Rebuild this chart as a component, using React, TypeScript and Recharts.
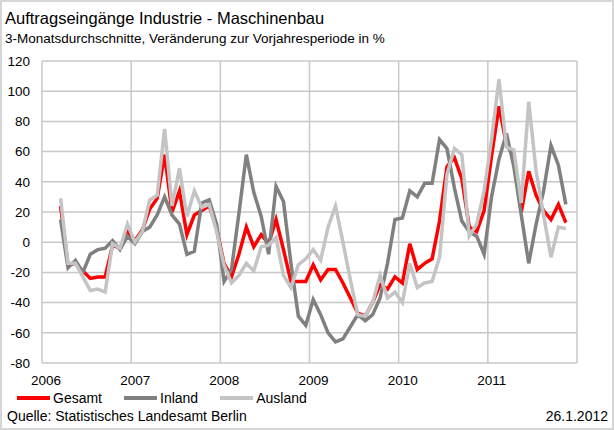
import React from 'react'
import { LineChart, Line, XAxis, YAxis, CartesianGrid } from 'recharts'

// Monate ab Januar 2006; erster Wert = März 2006, letzter = November 2011
const firstMonth = 2

const gesamt = [
  24, -15, -14, -19, -24, -23, -23, -2, -4, 7,
  1, 8, 22, 29, 58, 20, 34, 5, 18, 21,
  24, 9, -14, -23, -8, 10, -3, 5, -1, 15,
  -5, -26, -26, -26, -15, -25, -18, -18, -27, -37,
  -47, -49, -40, -28, -31, -23, -27, -1, -18, -14,
  -11, 14, 50, 56, 42, 10, 7, 21, 57, 90,
  65, 57, 20, 47, 31, 21, 15, 25, 13,
]

const inland = [
  15, -17, -12, -20, -8, -5, -4, 1, -5, 4,
  -1, 7, 10, 18, 30, 18, 12, -8, -6, 26,
  28, 12, -26, -18, 19, 58, 33, 17, -8, 37,
  27, -14, -49, -55, -38, -48, -60, -66, -64, -56,
  -48, -52, -48, -37, -14, 15, 16, 34, 30, 39,
  39, 68, 62, 36, 14, 7, 4, -8, 30, 55,
  72, 50, 18, -14, 12, 34, 64, 51, 25,
]

const ausland = [
  29, -14, -14, -23, -32, -31, -33, -1, -4, 12,
  0, 7, 28, 31, 75, 24, 49, 17, 34, 23,
  25, 7, -15, -27, -22, -14, -19, -3, -2, 3,
  -22, -30, -15, -11, -5, -12, 10, 24, 0, -25,
  -48, -49, -40, -22, -37, -33, -40, -14, -30, -27,
  -26, -10, 45, 62, 58, 4, 12, 34, 68, 108,
  63, 61, 26, 93, 47, 18, -10, 10, 9,
]

const yearLabels = ['2006', '2007', '2008', '2009', '2010', '2011']
const yearTicks = [0, 12, 24, 36, 48, 60, 72]
const valueTicks = [-80, -60, -40, -20, 0, 20, 40, 60, 80, 100, 120]

const series = [
  { key: 'gesamt', name: 'Gesamt', color: '#ff0000' },
  { key: 'inland', name: 'Inland', color: '#808080' },
  { key: 'ausland', name: 'Ausland', color: '#c4c4c4' },
]

const data = gesamt.map((g, i) => ({
  t: firstMonth + i + 0.5,
  gesamt: g,
  inland: inland[i],
  ausland: ausland[i],
}))

const font = '"Liberation Sans", Arial, sans-serif'
const tick = { fontSize: 13.5, fill: '#000', fontFamily: font }

export default function App() {
  return (
    <div
      style={{
        position: 'absolute',
        left: 0,
        top: 0,
        width: 614,
        height: 430,
        boxSizing: 'border-box',
        border: '2px solid #d6d6d6',
        background: '#fff',
        fontFamily: font,
        color: '#000',
      }}
    >
      <div style={{ position: 'absolute', left: 3, top: 7, fontSize: 16.5, lineHeight: '18px', whiteSpace: 'nowrap' }}>
        Auftragseingänge Industrie - Maschinenbau
      </div>
      <div style={{ position: 'absolute', left: 3, top: 29, fontSize: 13.5, lineHeight: '16px', whiteSpace: 'nowrap' }}>
        3-Monatsdurchschnitte, Veränderung zur Vorjahresperiode in %
      </div>

      <div style={{ position: 'absolute', left: -2, top: -2 }}>
        <LineChart width={614} height={430} data={data} margin={{ top: 61, right: 0, bottom: 37, left: 0 }}>
          <CartesianGrid stroke="#c8c8c8" strokeWidth={1.5} />
          <XAxis
            dataKey="t"
            type="number"
            domain={[0, 72]}
            ticks={yearTicks}
            interval={0}
            axisLine={false}
            tickLine={false}
            tickSize={0}
            tickMargin={12}
            height={30}
            tick={tick}
            tickFormatter={(v) => yearLabels[v / 12] ?? ''}
            dx={4}
          />
          <YAxis
            domain={[-80, 120]}
            ticks={valueTicks}
            interval={0}
            axisLine={false}
            tickLine={false}
            tickSize={0}
            tickMargin={12}
            width={42}
            tick={tick}
          />
          <YAxis
            yAxisId="right"
            orientation="right"
            domain={[-80, 120]}
            ticks={valueTicks}
            interval={0}
            axisLine={false}
            tickLine={false}
            tickSize={0}
            tickMargin={11}
            width={37}
            tick={tick}
          />
          {series.map((s) => (
            <Line
              key={s.key}
              type="linear"
              dataKey={s.key}
              name={s.name}
              stroke={s.color}
              strokeWidth={3.5}
              dot={false}
              isAnimationActive={false}
            />
          ))}
        </LineChart>
      </div>

      <div style={{ position: 'absolute', left: 15, top: 387, display: 'flex', alignItems: 'center', fontSize: 14, lineHeight: '18px' }}>
        {series.map((s) => (
          <div key={s.key} style={{ display: 'flex', alignItems: 'center', marginRight: 22 }}>
            <div style={{ width: 33, height: 4, background: s.color, marginRight: 3 }} />
            <span>{s.name}</span>
          </div>
        ))}
      </div>

      <div style={{ position: 'absolute', left: 5, top: 405, fontSize: 14, lineHeight: '18px', whiteSpace: 'nowrap' }}>
        Quelle: Statistisches Landesamt Berlin
      </div>
      <div style={{ position: 'absolute', right: 4, top: 405, fontSize: 14, lineHeight: '18px', whiteSpace: 'nowrap' }}>
        26.1.2012
      </div>
    </div>
  )
}
